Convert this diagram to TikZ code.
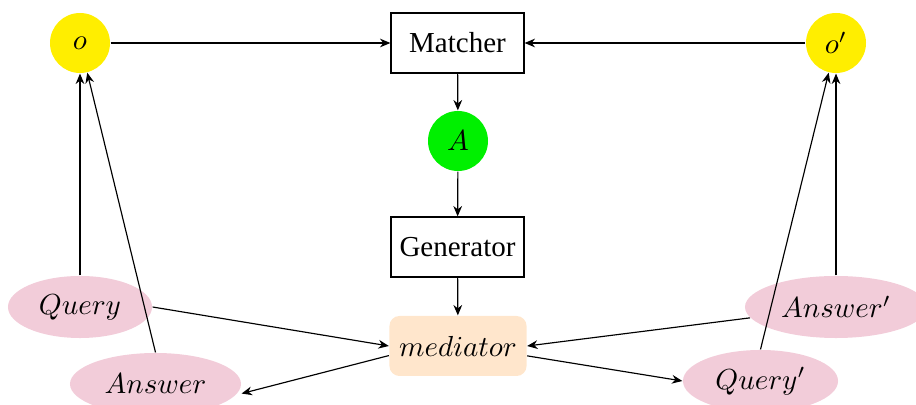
\documentclass[tikz,border=0pt]{standalone}
\usepackage{fontspec}
\setmainfont{Liberation Serif}
\usetikzlibrary{arrows.meta,shapes.geometric}
\definecolor{ylw}{RGB}{255,238,0}
\definecolor{grn}{RGB}{0,240,0}
\definecolor{pnk}{RGB}{242,204,217}
\definecolor{pch}{RGB}{255,230,204}
\begin{document}
\begin{tikzpicture}[x=0.345pt,y=-0.345pt,
  arr/.style={-{Stealth[length=3.6pt,width=3pt]}},
  obj/.style={circle,fill=ylw,minimum size=20.7pt,inner sep=0pt},
  proc/.style={draw,rectangle,minimum width=45.9pt,minimum height=20.7pt,inner sep=0pt},
  msg/.style={ellipse,fill=pnk,minimum height=21.4pt,inner sep=0pt}]
\useasboundingbox (0,0) rectangle (916,405);
\node[obj] (o) at (80,43) {$o$};
\node[obj] (op) at (836,43) {$o'$};
\node[proc] (matcher) at (457.5,43) {Matcher};
\node[circle,fill=grn,minimum size=20.7pt,inner sep=0pt] (A) at (458,141) {$A$};
\node[proc] (gen) at (457.5,247) {Generator};
\node[rectangle,rounded corners=3.45pt,fill=pch,minimum width=47.3pt,minimum height=20.7pt,inner sep=0pt] (med) at (458,346) {$mediator$};
\node[msg,minimum width=49.7pt] (query) at (80,307) {$Query$};
\node[msg,minimum width=59pt] (answer) at (155.5,384) {$Answer$};
\node[msg,minimum width=62.8pt] (answerp) at (836,307) {$Answer'$};
\node[msg,minimum width=53.5pt] (queryp) at (760.5,381) {$Query'$};
\draw[arr] (o) -- (matcher);
\draw[arr] (op) -- (matcher);
\draw[arr] (matcher) -- (A);
\draw[arr] (A) -- (gen);
\draw[arr] (gen) -- (med);
\draw[arr] (query.north) -- (o);
\draw[arr] (answer.north) -- (o);
\draw[arr] (query.east) -- (med.west);
\draw[arr] ([yshift=-3.3pt]med.west) -- ([yshift=-3.3pt]answer.east);
\draw[arr] (answerp.north) -- (op);
\draw[arr] (queryp.north) -- (op);
\draw[arr] (answerp) -- (med.east);
\draw[arr] ([yshift=-3.4pt]med.east) -- (queryp.west);
\end{tikzpicture}
\end{document}
